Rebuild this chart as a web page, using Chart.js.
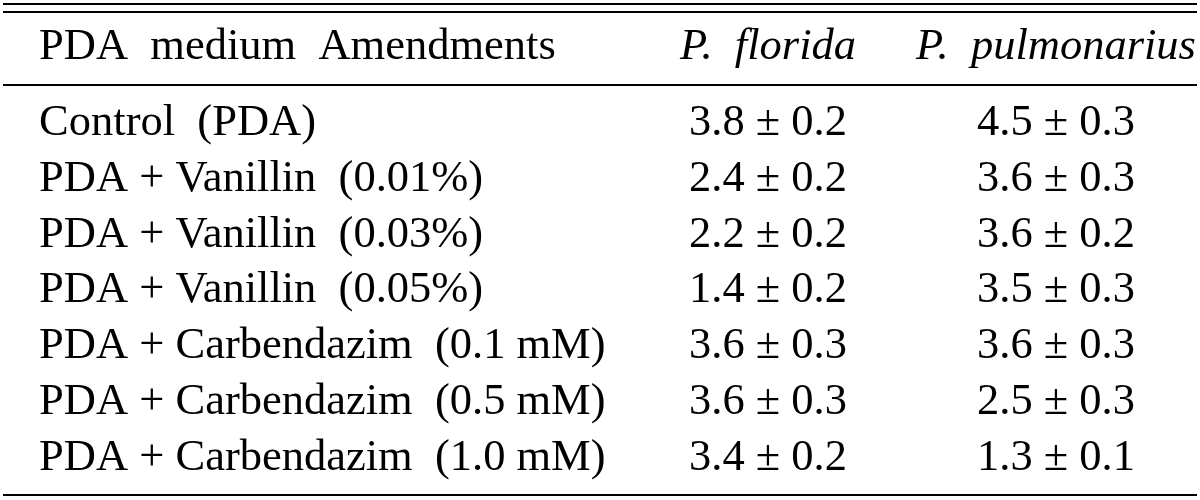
<!DOCTYPE html>
<html>
<head>
<meta charset="utf-8">
<title>PDA medium amendments</title>
<script src="https://cdn.jsdelivr.net/npm/chart.js@4/dist/chart.umd.min.js"></script>
<style>
    html, body { margin: 0; padding: 0; background: #fff; }
    #wrap { width: 1200px; height: 500px; }
</style>
</head>
<body>
<div id="wrap"><canvas id="chart" width="1200" height="500"></canvas></div>
<script>
// ─── Data ─────────────────────────────────────────────────────────────────────
const headers     = ['PDA  medium  Amendments', 'P.  florida', 'P.  pulmonarius'];
const amendments  = [
    'Control  (PDA)',
    'PDA + Vanillin  (0.01%)',
    'PDA + Vanillin  (0.03%)',
    'PDA + Vanillin  (0.05%)',
    'PDA + Carbendazim  (0.1 mM)',
    'PDA + Carbendazim  (0.5 mM)',
    'PDA + Carbendazim  (1.0 mM)'
];
const floridaMean = [3.8, 2.4, 2.2, 1.4, 3.6, 3.6, 3.4];
const floridaSd   = [0.2, 0.2, 0.2, 0.2, 0.3, 0.3, 0.2];
const pulmoMean   = [4.5, 3.6, 3.6, 3.5, 3.6, 2.5, 1.3];
const pulmoSd     = [0.3, 0.3, 0.2, 0.3, 0.3, 0.3, 0.1];

// ─── Layout (scale units: x = column, y = row) ───────────────────────────────
const AMEND_X    = -1.531;   // left edge of the first column
const HEADER_ROW = -1.36;
const RULES      = [-2.346, -2.203, -0.896, 6.448];
const FONT       = '"Liberation Serif", "Times New Roman", serif';
const FONT_SIZE  = 44.5;

const fmt = (m, s) => m.toFixed(1) + ' \u00b1 ' + s.toFixed(1);

function column(texts, x, align, style) {
    return {
        data: texts.map((t, i) => ({ x: x, y: i, text: t })),
        align: align,
        fontStyle: style,
        pointRadius: 0,
        showLine: false
    };
}

const headerSet = {
    data: headers.map((t, i) => ({ x: i === 0 ? AMEND_X : i, y: HEADER_ROW, text: t })),
    align: 'mixed',
    pointRadius: 0,
    showLine: false
};

// ─── Table plugin: text at element positions, rules through the y scale ──────
const tablePlugin = {
    id: 'tableText',
    afterDatasetsDraw(chart) {
        const ctx  = chart.ctx;
        const area = chart.chartArea;
        const y    = chart.scales.y;

        ctx.save();
        ctx.fillStyle    = '#000';
        ctx.textBaseline = 'alphabetic';

        chart.data.datasets.forEach((ds, di) => {
            const meta = chart.getDatasetMeta(di);
            meta.data.forEach((el, i) => {
                const raw = ds.data[i];
                let align = ds.align;
                let style = ds.fontStyle || '';
                if (align === 'mixed') {
                    align = i === 0 ? 'left' : 'center';
                    style = i === 0 ? '' : 'italic';
                }
                ctx.textAlign = align;
                ctx.font = (style ? style + ' ' : '') + FONT_SIZE + 'px ' + FONT;
                ctx.fillText(raw.text, el.x, el.y);
            });
        });

        ctx.strokeStyle = '#000';
        ctx.lineWidth   = 2;
        RULES.forEach(r => {
            const py = Math.round(y.getPixelForValue(r));
            ctx.beginPath();
            ctx.moveTo(area.left + 3, py);
            ctx.lineTo(area.right - 3, py);
            ctx.stroke();
        });
        ctx.restore();
    }
};

// ─── Chart ────────────────────────────────────────────────────────────────────
new Chart(document.getElementById('chart'), {
    type: 'scatter',
    data: {
        datasets: [
            headerSet,
            column(amendments, AMEND_X, 'left', ''),
            column(floridaMean.map((m, i) => fmt(m, floridaSd[i])), 1, 'center', ''),
            column(pulmoMean.map((m, i) => fmt(m, pulmoSd[i])), 2, 'center', '')
        ]
    },
    options: {
        responsive: false,
        animation: false,
        layout: { padding: 0 },
        scales: {
            x: { type: 'linear', display: false, min: -1.6667, max: 2.5 },
            y: { type: 'linear', display: false, reverse: true, min: -2.418, max: 6.538 }
        },
        plugins: {
            legend:  { display: false },
            tooltip: { enabled: false }
        },
        events: []
    },
    plugins: [tablePlugin]
});
</script>
</body>
</html>
